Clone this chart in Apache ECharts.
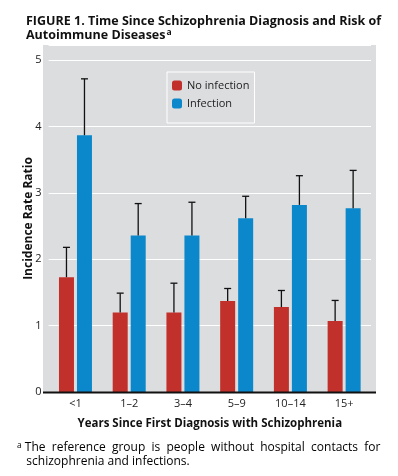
<!DOCTYPE html>
<html>
<head>
<meta charset="utf-8">
<script src="https://cdn.jsdelivr.net/npm/echarts@6/dist/echarts.min.js"></script>
<style>
  html, body { margin: 0; padding: 0; background: #fff; }
  #chart { width: 398px; height: 476px; }
</style>
</head>
<body>
<div id="chart"></div>
<script>
// 类目与数据
var years = ['<1', '1\u20132', '3\u20134', '5\u20139', '10\u201314', '15+'];
var noInfection = [1.73, 1.20, 1.20, 1.37, 1.28, 1.07];
var noInfectionUpper = [2.18, 1.49, 1.64, 1.56, 1.53, 1.38];
var infection = [3.87, 2.36, 2.36, 2.62, 2.82, 2.77];
var infectionUpper = [4.72, 2.84, 2.86, 2.95, 3.26, 3.34];
var yTicks = [0, 1, 2, 3, 4, 5];

var RED = '#c1302b';
var BLUE = '#0b87cb';
var FONT = '"Open Sans", "Noto Sans", sans-serif';

// 误差线（只画上端）
function errorSeries(name, values, uppers, offset) {
    var data = [];
    for (var i = 0; i < values.length; i++) {
        data.push([i, values[i], uppers[i]]);
    }
    return {
        name: name + ' CI',
        type: 'custom',
        z: 5,
        silent: true,
        data: data,
        renderItem: function(params, api) {
            var base = api.coord([api.value(0), api.value(1)]);
            var top = api.coord([api.value(0), api.value(2)]);
            var x = base[0] + offset;
            var style = { stroke: '#111', lineWidth: 1.3 };
            return {
                type: 'group',
                children: [
                    { type: 'line', shape: { x1: x, y1: base[1], x2: x, y2: top[1] }, style: style },
                    { type: 'line', shape: { x1: x - 3.5, y1: top[1], x2: x + 3.5, y2: top[1] }, style: style }
                ]
            };
        }
    };
}

var chart = echarts.init(document.getElementById('chart'));
var option = {
    backgroundColor: '#fff',
    animation: false,
    textStyle: { fontFamily: FONT },
    title: {
        left: 21,
        top: 9,
        text: '{t|FIGURE 1. Time Since Schizophrenia Diagnosis and Risk of}\n{t|Autoimmune Diseases}{sup|a}',
        textStyle: {
            rich: {
                t: { fontFamily: FONT, fontWeight: 'bold', fontSize: 12.5, color: '#111', lineHeight: 14 },
                sup: { fontFamily: FONT, fontWeight: 'bold', fontSize: 8.5, color: '#111', verticalAlign: 'top', padding: [0, 0, 6, 1] }
            }
        }
    },
    graphic: [
        // 灰色绘图区
        { type: 'rect', z: -10, shape: { x: 43, y: 45, width: 333, height: 347 }, style: { fill: '#dcdddf' } },
        // 底部坐标轴
        { type: 'line', z: 10, shape: { x1: 43, y1: 392.5, x2: 376, y2: 392.5 }, style: { stroke: '#111', lineWidth: 2.2 } },
        // 脚注
        {
            type: 'text', left: 17, top: 441,
            style: {
                text: '{sup|a}{t| The  reference  group  is  people  without  hospital  contacts  for}\n{t|   schizophrenia and infections.}',
                rich: {
                    t: { fontFamily: FONT, fontSize: 12, color: '#222', lineHeight: 14 },
                    sup: { fontFamily: FONT, fontSize: 8.5, color: '#222', verticalAlign: 'top', padding: [0, 0, 5, 0] }
                }
            }
        }
    ],
    legend: {
        data: ['No infection', 'Infection'],
        orient: 'vertical',
        left: 167,
        top: 72,
        padding: [8, 5, 14, 5],
        itemWidth: 10,
        itemHeight: 10,
        itemGap: 7,
        borderColor: '#fff',
        borderWidth: 1,
        textStyle: { fontFamily: FONT, fontSize: 11, color: '#222' }
    },
    grid: {
        left: 48.6,
        right: 27,
        top: 45,
        bottom: 84
    },
    xAxis: {
        type: 'category',
        data: years,
        name: 'Years Since First Diagnosis with Schizophrenia',
        nameLocation: 'middle',
        nameGap: 26,
        nameTextStyle: { fontFamily: FONT, fontWeight: 'bold', fontSize: 11.5, color: '#111' },
        axisLine: { show: false },
        axisTick: { show: false },
        axisLabel: { margin: 6, fontSize: 11, color: '#222', fontFamily: FONT }
    },
    yAxis: {
        type: 'value',
        min: 0,
        max: 5.23,
        interval: 1,
        name: 'Incidence Rate Ratio',
        nameLocation: 'middle',
        nameGap: 14,
        nameMoveOverlap: false,
        nameTextStyle: { fontFamily: FONT, fontWeight: 'bold', fontSize: 12, color: '#111' },
        axisLine: { show: false },
        axisTick: { show: false },
        axisLabel: {
            margin: 7,
            fontSize: 11,
            color: '#222',
            fontFamily: FONT,
            formatter: function(v) {
                return yTicks.indexOf(v) >= 0 ? String(v) : '';
            }
        },
        splitLine: { lineStyle: { color: '#fff', width: 1.2 } }
    },
    series: [
        {
            name: 'No infection',
            type: 'bar',
            barWidth: 15,
            barGap: '20%',
            itemStyle: { color: RED },
            data: noInfection
        },
        {
            name: 'Infection',
            type: 'bar',
            barWidth: 15,
            itemStyle: { color: BLUE },
            data: infection
        },
        errorSeries('No infection', noInfection, noInfectionUpper, -9),
        errorSeries('Infection', infection, infectionUpper, 9)
    ]
};
chart.setOption(option);
</script>
</body>
</html>
